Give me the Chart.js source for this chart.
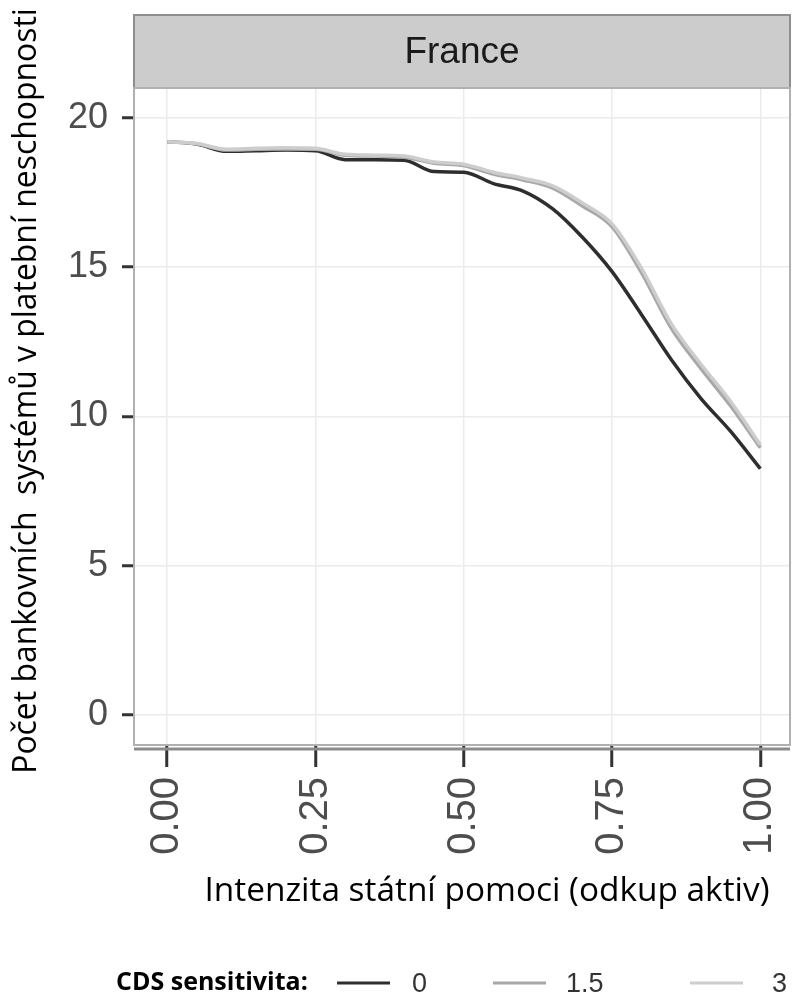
<!DOCTYPE html>
<html>
<head>
<meta charset="utf-8">
<script src="https://cdn.jsdelivr.net/npm/chart.js@4.4.1/dist/chart.umd.min.js"></script>
<style>
  body { margin: 0; background: #fff; }
  canvas { display: block; }
</style>
</head>
<body>
<canvas id="chart" width="803" height="999"></canvas>
<script>
// Data (France panel)
const xValues = [0, 0.05, 0.10, 0.15, 0.20, 0.25, 0.30, 0.35, 0.40, 0.45, 0.50,
                 0.55, 0.60, 0.65, 0.70, 0.75, 0.80, 0.85, 0.90, 0.95, 1.00];
const cds0  = [19.2, 19.12, 18.88, 18.9, 18.92, 18.9, 18.6, 18.6, 18.58, 18.2, 18.18,
               17.8, 17.55, 16.95, 16.0, 14.85, 13.4, 11.9, 10.6, 9.5, 8.25];
const cds15 = [19.2, 19.13, 18.92, 18.95, 18.96, 18.95, 18.75, 18.72, 18.68, 18.48, 18.4,
               18.12, 17.92, 17.65, 17.05, 16.35, 14.8, 12.95, 11.6, 10.35, 8.95];
const cds3  = [19.2, 19.14, 18.95, 18.98, 19.0, 18.98, 18.78, 18.75, 18.72, 18.52, 18.45,
               18.18, 17.98, 17.72, 17.15, 16.45, 14.95, 13.1, 11.75, 10.5, 9.05];
const seriesLabels = ['0', '1.5', '3'];
const xTicks = [0, 0.25, 0.5, 0.75, 1];
const yTicks = [0, 5, 10, 15, 20];
const panelTitle = 'France';
const xTitle = 'Intenzita státní pomoci (odkup aktiv)';
const yTitle = 'Počet bankovních  systémů v platební neschopnosti';
const legendTitle = 'CDS sensitivita:';

const colors = ['#2e2e2e', '#a8a8a8', '#cdcdcd'];

function toPoints(ys) {
    return ys.map((y, i) => ({ x: xValues[i], y: y }));
}

// scale font so the text fills a given width
function fitFont(ctx, text, family, weight, width) {
    ctx.font = weight + ' 100px ' + family;
    const size = 100 * width / ctx.measureText(text).width;
    return weight + ' ' + size.toFixed(1) + 'px ' + family;
}

// strip, panel border, axis titles and legend
const decorations = {
    id: 'decorations',
    afterDraw(chart) {
        const ctx = chart.ctx;
        const area = chart.chartArea;
        ctx.save();

        // facet strip
        ctx.fillStyle = '#cccccc';
        ctx.fillRect(area.left, 15, area.right - area.left, area.top - 15);
        ctx.strokeStyle = '#8e8e8e';
        ctx.lineWidth = 2;
        ctx.strokeRect(area.left, 15, area.right - area.left, area.top - 15);
        ctx.fillStyle = '#1a1a1a';
        ctx.font = '37px "Liberation Sans", Arial, sans-serif';
        ctx.textAlign = 'center';
        ctx.textBaseline = 'middle';
        ctx.fillText(panelTitle, (area.left + area.right) / 2, 53);

        // panel border
        ctx.strokeStyle = '#b0b0b0';
        ctx.lineWidth = 2;
        ctx.strokeRect(area.left, area.top, area.right - area.left, area.bottom - area.top);

        // bottom axis line
        ctx.strokeStyle = '#8c8c8c';
        ctx.lineWidth = 3;
        ctx.beginPath();
        ctx.moveTo(area.left, area.bottom + 4);
        ctx.lineTo(area.right, area.bottom + 4);
        ctx.stroke();

        // y title
        ctx.fillStyle = '#000';
        ctx.save();
        ctx.translate(27, 391);
        ctx.rotate(-Math.PI / 2);
        ctx.font = fitFont(ctx, yTitle, '"Open Sans"', 'normal', 767);
        ctx.textAlign = 'center';
        ctx.textBaseline = 'middle';
        ctx.fillText(yTitle, 0, 0);
        ctx.restore();

        // x title
        ctx.font = fitFont(ctx, xTitle, '"Open Sans"', 'normal', 565);
        ctx.textAlign = 'center';
        ctx.textBaseline = 'middle';
        ctx.fillText(xTitle, 487, 891);

        // legend
        const ly = 983;
        ctx.font = fitFont(ctx, legendTitle, '"Open Sans"', 'bold', 192);
        ctx.textAlign = 'left';
        ctx.fillText(legendTitle, 116, ly);
        const lineStarts = [337, 493, 690];
        const labelStarts = [412, 566, 772];
        ctx.font = '27px "Liberation Sans", Arial, sans-serif';
        chart.data.datasets.forEach((ds, i) => {
            ctx.strokeStyle = ds.borderColor;
            ctx.lineWidth = 3;
            ctx.beginPath();
            ctx.moveTo(lineStarts[i], ly);
            ctx.lineTo(lineStarts[i] + 53, ly);
            ctx.stroke();
            ctx.fillStyle = '#333';
            ctx.fillText(ds.label, labelStarts[i], ly + 2);
        });

        ctx.restore();
    }
};

const ctx = document.getElementById('chart');
new Chart(ctx, {
    type: 'line',
    data: {
        datasets: [
            { label: seriesLabels[0], data: toPoints(cds0), borderColor: colors[0], order: 3 },
            { label: seriesLabels[1], data: toPoints(cds15), borderColor: colors[1], order: 2 },
            { label: seriesLabels[2], data: toPoints(cds3), borderColor: colors[2], order: 1 }
        ]
    },
    options: {
        responsive: false,
        animation: false,
        layout: { padding: { top: 88, right: 13, left: 0, bottom: 0 } },
        elements: {
            point: { radius: 0 },
            line: { borderWidth: 3.5, cubicInterpolationMode: 'monotone' }
        },
        plugins: {
            legend: { display: false },
            tooltip: { enabled: false }
        },
        scales: {
            x: {
                type: 'linear',
                min: -0.056,
                max: 1.05,
                afterBuildTicks: axis => { axis.ticks = xTicks.map(v => ({ value: v })); },
                afterFit: axis => {
                    axis.height = 254;
                    axis.paddingLeft = 0;
                    axis.paddingRight = 0;
                },
                border: { display: false },
                grid: { color: '#ebebeb', lineWidth: 1.5, tickColor: '#333', tickWidth: 3, tickLength: 22 },
                ticks: {
                    minRotation: 90,
                    maxRotation: 90,
                    padding: 10,
                    color: '#4d4d4d',
                    font: { family: '"Liberation Sans", Arial, sans-serif', size: 40 },
                    callback: v => v.toFixed(2)
                }
            },
            y: {
                min: -1,
                max: 21,
                afterBuildTicks: axis => { axis.ticks = yTicks.map(v => ({ value: v })); },
                afterFit: axis => {
                    axis.width = 134;
                    axis.paddingTop = 0;
                    axis.paddingBottom = 0;
                },
                border: { display: false },
                grid: { color: '#ebebeb', lineWidth: 1.5, tickColor: '#333', tickWidth: 3, tickLength: 12 },
                ticks: {
                    padding: 14,
                    color: '#4d4d4d',
                    font: { family: '"Liberation Sans", Arial, sans-serif', size: 36 }
                }
            }
        }
    },
    plugins: [decorations]
});
</script>
</body>
</html>
